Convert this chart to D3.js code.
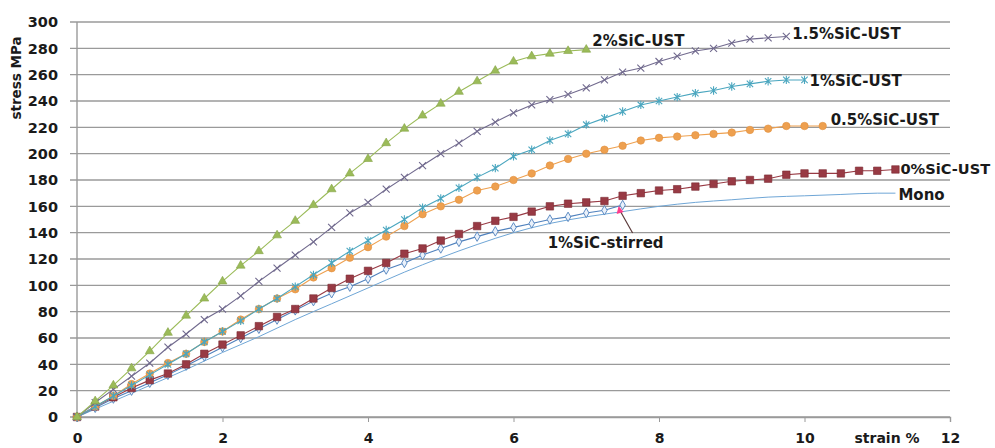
<!DOCTYPE html>
<html><head><meta charset="utf-8">
<script src="https://cdn.jsdelivr.net/npm/d3@7/dist/d3.min.js"></script>
<style>body{margin:0;background:#fff}svg{display:block}</style>
</head><body><svg id="c" width="995" height="448"></svg>
<script>
// ---- data ----
const strainSteps = [0,0.25,0.5,0.75,1,1.25,1.5,1.75,2,2.25,2.5,2.75,3,3.25,3.5,3.75,4,4.25,4.5,4.75,5,5.25,5.5,5.75,6,6.25,6.5,6.75,7,7.25,7.5,7.75,8,8.25,8.5,8.75,9,9.25,9.5,9.75,10,10.25,10.5,10.75,11,11.25];
const sic2 = [0,12,24,37,50,64,77,90,103,115,126,138,149,161,173,185,196,208,219,229,238,247,255,263,270,274,276,278,279];
const sic15 = [0,11,21,31,41,53,63,74,82,92,103,113,123,133,144,155,163,173,182,191,200,208,217,224,231,237,241,245,250,256,262,265,270,274,278,280,284,287,288,289];
const sic1 = [0,8,16,24,32,40,48,57,65,73,82,90,99,108,117,126,134,142,150,159,166,174,182,189,198,203,210,215,222,227,232,237,240,243,246,248,251,253,255,256,256];
const sic05 = [0,8,16,25,33,41,48,57,65,74,82,90,97,106,113,121,129,137,145,154,160,165,172,175,180,185,191,196,200,203,206,210,212,213,214,215,216,218,219,221,221,221];
const sic0 = [0,8,15,22,28,33,40,48,55,62,69,76,82,90,98,105,111,117,124,128,134,139,145,149,152,156,160,162,163,164,168,170,172,173,175,177,179,180,181,184,185,185,185,187,187,188];
const stirred = [0,7,14,20,26,32,39,46,53,60,67,74,81,88,94,99,105,112,117,123,128,133,137,141,144,147,150,152,155,157,161];
const monoStrain = [0,0.5,1,1.5,2,2.5,3,3.5,4,4.5,5,5.5,6,6.5,7,7.5,8,8.5,9,9.5,10,10.5,11,11.25];
const mono = [0,12,24,36,49,61,74,86,98,110,121,131,140,147,152,156,160,163,165,167,168,169,170,170];
const yTicks = [0,20,40,60,80,100,120,140,160,180,200,220,240,260,280,300];
const xTicks = [0,2,4,6,8,10,12];
const seriesNames = ["2%SiC-UST","1.5%SiC-UST","1%SiC-UST","0.5%SiC-UST","0%SiC-UST","1%SiC-stirred","Mono"];

// ---- setup ----
const svg = d3.select("#c");
const x = d3.scaleLinear().domain([0,12]).range([77,950]);
const y = d3.scaleLinear().domain([0,300]).range([417,22]);
const font = "'DejaVu Sans', Verdana, sans-serif";

// gridlines
svg.append("g").selectAll("line").data(yTicks).join("line")
  .attr("x1",70).attr("x2",950).attr("y1",d=>y(d)).attr("y2",d=>y(d))
  .attr("stroke","#9a9a9a").attr("stroke-width",1.4);
// y axis line
svg.append("line").attr("x1",x(0)).attr("x2",x(0)).attr("y1",y(300)).attr("y2",y(0))
  .attr("stroke","#9a9a9a").attr("stroke-width",1.4);
// y tick labels
svg.append("g").selectAll("text").data(yTicks).join("text")
  .attr("x",58).attr("y",d=>y(d)).attr("dy","0.36em").attr("text-anchor","end")
  .attr("font-family",font).attr("font-weight","bold").attr("font-size",14.5).attr("fill","#1a1a1a")
  .text(d=>d);
// x axis
const xa = svg.append("g").attr("transform",`translate(0,${y(0)})`)
  .call(d3.axisBottom(x).tickValues(xTicks).tickSize(5).tickPadding(11).tickFormat(d=>d));
xa.select(".domain").attr("stroke","#9a9a9a").attr("stroke-width",1.4);
xa.selectAll(".tick line").attr("stroke","#9a9a9a");
xa.selectAll(".tick text").attr("font-family",font).attr("font-weight","bold").attr("font-size",14).attr("fill","#1a1a1a");
// axis titles
svg.append("text").attr("transform","translate(21,78) rotate(-90)").attr("text-anchor","middle")
  .attr("font-family",font).attr("font-weight","bold").attr("font-size",13.5).attr("fill","#1a1a1a").text("stress MPa");
svg.append("text").attr("x",887).attr("y",443).attr("text-anchor","middle")
  .attr("font-family",font).attr("font-weight","bold").attr("font-size",14).attr("fill","#1a1a1a").text("strain %");

// marker paths
const cross = s => `M${-s},${-s}L${s},${s}M${-s},${s}L${s},${-s}`;
const aster = s => `M${-s},${-s}L${s},${s}M${-s},${s}L${s},${-s}M0,${-s*1.3}L0,${s*1.3}`;
const series = [
  {name:seriesNames[0], vals:sic2, color:"#9bbb59", marker:"tri", dx:6, dy:-4},
  {name:seriesNames[1], vals:sic15, color:"#716a8e", marker:"x", dx:6, dy:3},
  {name:seriesNames[2], vals:sic1, color:"#4aa6bf", marker:"ast", dx:5, dy:6},
  {name:seriesNames[3], vals:sic05, color:"#eea04f", marker:"circ", dx:8, dy:-1},
  {name:seriesNames[4], vals:sic0, color:"#983a44", marker:"sq", dx:5, dy:5, size:14.6},
  {name:seriesNames[5], vals:stirred, color:"#4f81bd", marker:"dia", dx:-75, dy:43}
];
const line = d3.line().x(d=>x(d[0])).y(d=>y(d[1]));

// mono line
const monoPts = monoStrain.map((s,i)=>[s,mono[i]]);
svg.append("path").datum(monoPts).attr("d",d3.line().x(d=>x(d[0])).y(d=>y(d[1])).curve(d3.curveMonotoneX))
  .attr("fill","none").attr("stroke","#6fa6d6").attr("stroke-width",1);

// draw in back-to-front order
[...series].reverse().forEach(sr=>{
  const pts = sr.vals.map((v,i)=>[strainSteps[i],v]);
  sr.pts = pts;
  const g = svg.append("g");
  g.append("path").datum(pts).attr("d",line).attr("fill","none").attr("stroke",sr.color).attr("stroke-width",1.1);
  const m = g.selectAll("path.m").data(pts).join("path").attr("class","m")
    .attr("transform",d=>`translate(${x(d[0])},${y(d[1])})`);
  if(sr.marker==="tri") m.attr("d",d3.symbol(d3.symbolTriangle,34)).attr("fill",sr.color).attr("stroke","#86a548").attr("stroke-width",0.6);
  if(sr.marker==="sq") m.attr("d",d3.symbol(d3.symbolSquare,56)).attr("fill",sr.color).attr("stroke","#7a2a33").attr("stroke-width",0.6);
  if(sr.marker==="circ") m.attr("d",d3.symbol(d3.symbolCircle,44)).attr("fill",sr.color).attr("stroke","#e0903f").attr("stroke-width",0.6);
  if(sr.marker==="x") m.attr("d",cross(3.5)).attr("fill","none").attr("stroke",sr.color).attr("stroke-width",1.1);
  if(sr.marker==="ast") m.attr("d",aster(3.2)).attr("fill","none").attr("stroke",sr.color).attr("stroke-width",1.1);
  if(sr.marker==="dia") m.attr("d",d3.symbol(d3.symbolDiamond,26)).attr("fill","#eaf1fa").attr("stroke",sr.color).attr("stroke-width",0.9);
});

// labels
const lbl = (tx,ty,t,fs)=>svg.append("text").attr("x",tx).attr("y",ty)
  .attr("font-family",font).attr("font-weight","bold").attr("font-size",fs||15).attr("fill","#1a1a1a").text(t);
series.forEach(sr=>{
  const last = sr.pts[sr.pts.length-1];
  lbl(x(last[0])+sr.dx, y(last[1])+sr.dy, sr.name, sr.size);
});
lbl(x(monoStrain[monoStrain.length-1])+3, y(mono[mono.length-1])+7, seriesNames[6]);

// arrow for stirred
const sl = series[5].pts[series[5].pts.length-1];
const ax = x(sl[0]), ay = y(sl[1]);
svg.append("line").attr("x1",ax+10).attr("y1",ay+28).attr("x2",ax-3).attr("y2",ay+5)
  .attr("stroke","#5a3a3a").attr("stroke-width",1.2);
svg.append("path").attr("d",`M${ax-4},${ay+1}L${ax-6},${ay+9}L${ax+1},${ay+7}Z`).attr("fill","#ff3c8c");
</script></body></html>
